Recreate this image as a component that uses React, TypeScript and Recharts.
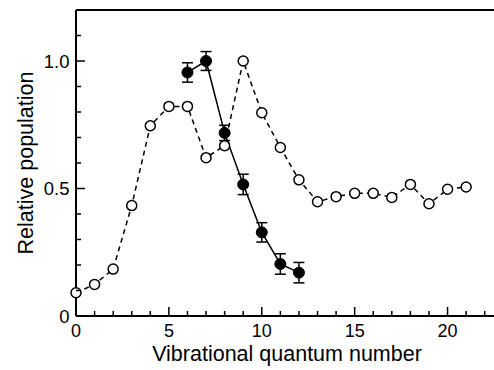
import React from 'react';
import { ComposedChart, Line, XAxis, YAxis, ErrorBar, ReferenceLine, Label } from 'recharts';

// open circles, dashed
const openX = [0, 1, 2, 3, 4, 5, 6, 7, 8, 9, 10, 11, 12, 13, 14, 15, 16, 17, 18, 19, 20, 21];
const openY = [0.091, 0.124, 0.184, 0.433, 0.746, 0.822, 0.822, 0.621, 0.668, 1.0, 0.797, 0.661, 0.534, 0.448, 0.468, 0.481, 0.481, 0.465, 0.516, 0.44, 0.497, 0.506];

// filled circles with error bars, solid
const filledX = [6, 7, 8, 9, 10, 11, 12];
const filledY = [0.955, 1.0, 0.718, 0.516, 0.328, 0.204, 0.17];
const filledErr = [0.038, 0.037, 0.03, 0.04, 0.038, 0.04, 0.04];

const xTicks = [0, 1, 2, 3, 4, 5, 6, 7, 8, 9, 10, 11, 12, 13, 14, 15, 16, 17, 18, 19, 20, 21, 22];
const xLabels = [0, 5, 10, 15, 20];
const yTicks = [0, 0.1, 0.2, 0.3, 0.4, 0.5, 0.6, 0.7, 0.8, 0.9, 1.0, 1.1];
const yLabels: Record<string, string> = { '0': '0', '0.5': '0.5', '1': '1.0' };

const data = openX.map((x, i) => {
  const j = filledX.indexOf(x);
  return {
    x,
    open: openY[i],
    filled: j >= 0 ? filledY[j] : null,
    err: j >= 0 ? filledErr[j] : null,
  };
});

const FONT = '"Liberation Sans", Arial, Helvetica, sans-serif';

const XTick = (props: any) => {
  const { x, y, payload } = props;
  const major = xLabels.includes(payload.value);
  return (
    <g>
      <line x1={x} x2={x} y1={y} y2={y - (major ? 9 : 5)} stroke="#000" strokeWidth={1.5} />
      {major && (
        <text x={x} y={y + 21} textAnchor="middle" fontSize={18} fontFamily={FONT} fill="#000">
          {payload.value}
        </text>
      )}
    </g>
  );
};

const YTick = (props: any) => {
  const { x, y, payload } = props;
  const key = String(Math.round(payload.value * 10) / 10);
  const lbl = yLabels[key];
  return (
    <g>
      <line x1={x} x2={x + (lbl ? 9 : 5)} y1={y} y2={y} stroke="#000" strokeWidth={1.5} />
      {lbl && (
        <text x={x - 6.5} y={y + 6.5} textAnchor="end" fontSize={18.5} fontFamily={FONT} fill="#000">
          {lbl}
        </text>
      )}
    </g>
  );
};

const OpenDot = (props: any) => {
  const { cx, cy, payload } = props;
  if (payload.open == null) return <g />;
  return <circle cx={cx} cy={cy} r={5} fill="#fff" stroke="#000" strokeWidth={1.5} />;
};

const FilledDot = (props: any) => {
  const { cx, cy, payload } = props;
  if (payload.filled == null) return <g />;
  return <circle cx={cx} cy={cy} r={5.5} fill="#000" stroke="#000" />;
};

export default function App() {
  return (
    <div style={{ position: 'fixed', left: 0, top: 0, width: 494, height: 370, background: '#fff' }}>
      <ComposedChart width={494} height={370} data={data} margin={{ top: 10, right: 0, bottom: 0, left: 0 }}>
        <XAxis
          dataKey="x"
          type="number"
          domain={[0, 22.5]}
          ticks={xTicks}
          interval={0}
          height={54}
          tickSize={0}
          tickMargin={0}
          tickLine={false}
          tick={<XTick />}
          axisLine={{ stroke: '#000', strokeWidth: 2 }}
        >
          <Label
            content={(p: any) => {
              const vb = p.viewBox;
              return (
                <text x={vb.x + vb.width / 2 + 2} y={361} textAnchor="middle" fontSize={21.5} fontFamily={FONT} fill="#000">
                  Vibrational quantum number
                </text>
              );
            }}
          />
        </XAxis>
        <YAxis
          type="number"
          domain={[0, 1.2]}
          ticks={yTicks}
          interval={0}
          width={76}
          tickSize={0}
          tickMargin={0}
          tickLine={false}
          tick={<YTick />}
          axisLine={{ stroke: '#000', strokeWidth: 2 }}
        >
          <Label
            content={() => {
              const cy = 163;
              return (
                <text x={33} y={cy} transform={`rotate(-90 33 ${cy})`} textAnchor="middle" fontSize={21.5} fontFamily={FONT} fill="#000">
                  Relative population
                </text>
              );
            }}
          />
        </YAxis>
        <ReferenceLine y={1.2} stroke="#000" strokeWidth={2} ifOverflow="extendDomain" />
        <Line
          dataKey="open"
          stroke="#000"
          strokeWidth={1.5}
          strokeDasharray="5 4"
          dot={<OpenDot />}
          isAnimationActive={false}
        />
        <Line
          dataKey="filled"
          stroke="#000"
          strokeWidth={1.5}
          dot={<FilledDot />}
          isAnimationActive={false}
        >
          <ErrorBar dataKey="err" width={5.5} stroke="#000" strokeWidth={1.5} direction="y" />
        </Line>
      </ComposedChart>
    </div>
  );
}
